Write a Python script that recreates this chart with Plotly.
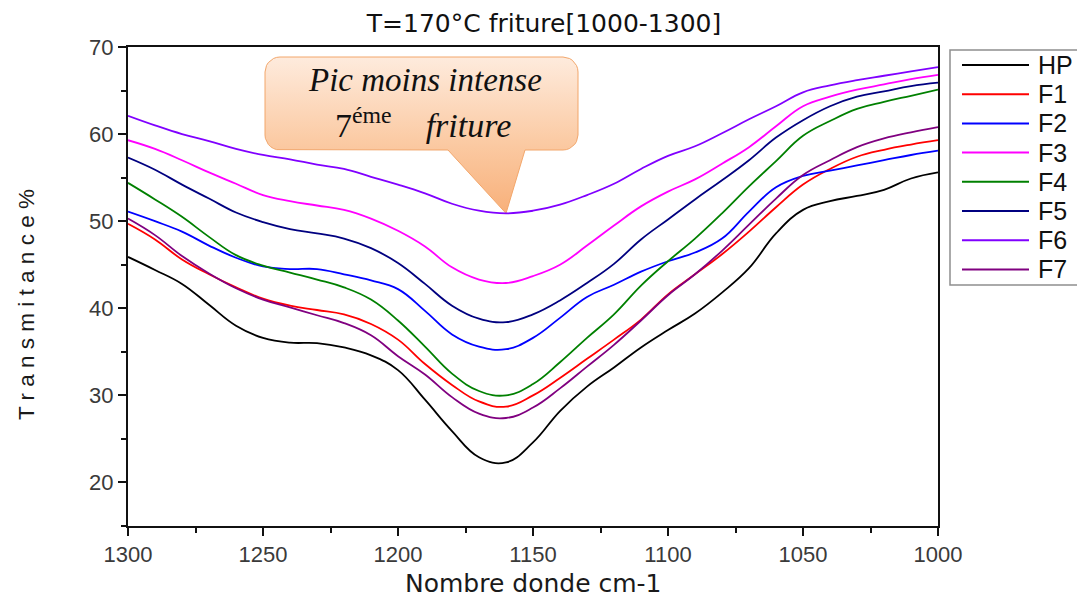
import numpy as np
import plotly.graph_objects as go

# Wavenumber grid (cm-1), high to low as on the spectrometer axis
wavenumber = [1300, 1290, 1280, 1270, 1260, 1250, 1240, 1230, 1220, 1210,
              1200, 1190, 1180, 1170, 1160, 1150, 1140, 1130, 1120, 1110,
              1100, 1090, 1080, 1070, 1060, 1050, 1040, 1030, 1020, 1010, 1000]

# Transmittance (%) for the fresh oil (HP) and each frying cycle F1..F7
hp = [45.9, 44.4, 42.8, 40.4, 38.0, 36.6, 36.05, 36.0, 35.5, 34.6,
      32.9, 29.5, 25.9, 22.9, 22.3, 24.6, 28.2, 31.0, 33.2, 35.5,
      37.5, 39.4, 41.8, 44.6, 48.6, 51.3, 52.3, 52.9, 53.6, 54.9, 55.6]
f1 = [49.7, 47.9, 45.6, 43.9, 42.4, 41.1, 40.3, 39.8, 39.3, 38.2,
      36.4, 33.6, 31.2, 29.3, 28.7, 30.0, 32.0, 34.2, 36.4, 38.7,
      41.6, 43.9, 46.2, 48.8, 51.6, 54.2, 56.0, 57.4, 58.2, 58.8, 59.3]
f2 = [51.1, 50.0, 48.8, 47.2, 45.8, 44.8, 44.5, 44.5, 43.9, 43.2,
      42.2, 39.7, 37.0, 35.6, 35.3, 36.6, 38.9, 41.3, 42.7, 44.2,
      45.4, 46.4, 48.0, 51.1, 53.9, 55.2, 55.8, 56.4, 57.0, 57.6, 58.1]
f3 = [59.3, 58.3, 57.0, 55.6, 54.3, 53.0, 52.3, 51.8, 51.3, 50.3,
      48.9, 47.1, 44.7, 43.3, 42.9, 43.7, 45.0, 47.2, 49.5, 51.7,
      53.4, 54.8, 56.6, 58.5, 60.9, 63.2, 64.3, 65.1, 65.7, 66.3, 66.8]
f4 = [54.4, 52.5, 50.5, 48.2, 46.1, 44.9, 44.1, 43.3, 42.4, 41.0,
      38.6, 35.6, 32.5, 30.5, 30.0, 31.3, 33.8, 36.6, 39.3, 42.6,
      45.4, 48.0, 50.9, 54.0, 56.9, 59.8, 61.5, 62.9, 63.7, 64.4, 65.1]
f5 = [57.3, 55.9, 54.2, 52.6, 51.0, 49.9, 49.1, 48.6, 48.0, 46.9,
      45.2, 42.8, 40.3, 38.8, 38.4, 39.3, 40.9, 42.9, 45.1, 47.9,
      50.2, 52.5, 54.7, 57.0, 59.6, 61.6, 63.2, 64.3, 64.9, 65.5, 65.9]
f6 = [62.1, 61.0, 60.0, 59.2, 58.3, 57.6, 57.1, 56.5, 56.0, 55.1,
      54.2, 53.2, 52.0, 51.2, 50.9, 51.2, 51.9, 53.0, 54.3, 56.0,
      57.5, 58.6, 60.1, 61.7, 63.2, 64.8, 65.6, 66.2, 66.7, 67.2, 67.7]
f7 = [50.3, 48.4, 46.0, 44.0, 42.3, 41.0, 40.1, 39.2, 38.3, 36.9,
      34.5, 32.4, 29.8, 27.9, 27.4, 28.6, 30.8, 33.3, 35.8, 38.6,
      41.5, 43.9, 46.6, 49.6, 52.6, 55.3, 57.0, 58.5, 59.5, 60.2, 60.8]

series_names = ["HP", "F1", "F2", "F3", "F4", "F5", "F6", "F7"]
series_values = [hp, f1, f2, f3, f4, f5, f6, f7]
series_colors = ["#000000", "#ff0000", "#0000ff", "#ff00ff",
                 "#008000", "#000080", "#8000ff", "#800080"]

X_RANGE = (1300, 1000)
Y_RANGE = (15, 70)

W, H = 1077, 599
M_L, M_R, M_T, M_B = 128, 139, 47, 73
PLOT_W = W - M_L - M_R
PLOT_H = H - M_T - M_B


def to_data(px, py):
    """Pixel offset inside the plot area (from top-left) -> data coords."""
    x = X_RANGE[0] + (X_RANGE[1] - X_RANGE[0]) * px / PLOT_W
    y = Y_RANGE[1] - (Y_RANGE[1] - Y_RANGE[0]) * py / PLOT_H
    return x, y


def to_px(x, y):
    px = (x - X_RANGE[0]) / (X_RANGE[1] - X_RANGE[0]) * PLOT_W
    py = (Y_RANGE[1] - y) / (Y_RANGE[1] - Y_RANGE[0]) * PLOT_H
    return px, py


def paper_x(page_px):
    return (page_px - M_L) / PLOT_W


def paper_y(page_py):
    return (H - M_B - page_py) / PLOT_H


fig = go.Figure()

# ---- callout bubble pointing at the shallowest band (F6) ----
i_min = int(np.argmin(f6))
tip_px, tip_py = to_px(wavenumber[i_min], f6[i_min])
box_l, box_r, box_t, box_b, rad = 137, 450, 10, 103, 15
base_l, base_r = 320, 397

pts = []


def arc(cx, cy, a0, a1):
    for a in np.linspace(a0, a1, 8):
        pts.append((cx + rad * np.cos(a), cy - rad * np.sin(a)))


arc(box_l + rad, box_t + rad, np.pi, np.pi / 2)          # top-left
arc(box_r - rad, box_t + rad, np.pi / 2, 0)              # top-right
arc(box_r - rad, box_b - rad, 0, -np.pi / 2)             # bottom-right
pts += [(base_r, box_b), (tip_px, tip_py), (base_l, box_b)]
arc(box_l + rad, box_b - rad, -np.pi / 2, -np.pi)        # bottom-left
pts.append(pts[0])

cx, cy = zip(*[to_data(p[0], p[1]) for p in pts])
_, y_tip = to_data(0, tip_py)
_, y_top = to_data(0, box_t)
fig.add_trace(go.Scatter(
    x=cx, y=cy, mode="lines", fill="toself",
    line=dict(color="#f2a66b", width=1),
    fillgradient=dict(type="vertical", start=y_tip, stop=y_top,
                      colorscale=[[0, "#f8b07a"], [0.45, "#fbcaa3"], [1, "#feebdd"]]),
    showlegend=False, hoverinfo="skip",
))

# ---- spectra ----
for name, vals, col in zip(series_names, series_values, series_colors):
    fig.add_trace(go.Scatter(
        x=wavenumber, y=vals, name=name, mode="lines",
        line=dict(color=col, width=1.8, shape="spline", smoothing=1.2),
        showlegend=False,
    ))

# callout text
tx1, ty1 = to_data(297, 33)
tx2, ty2 = to_data(295, 76)
fig.add_annotation(x=tx1, y=ty1, text="<i>Pic moins intense</i>", showarrow=False,
                   font=dict(family="Liberation Serif", size=33, color="#111111"),
                   xanchor="center", yanchor="middle")
fig.add_annotation(x=tx2, y=ty2, text="7<sup>éme</sup>\u2003<i>friture</i>", showarrow=False,
                   font=dict(family="Liberation Serif", size=34, color="#111111"),
                   xanchor="center", yanchor="middle")

# ---- legend box drawn beside the plot ----
LEG_L, LEG_T, LEG_B, LEG_R = 950, 50, 285, 1095
LEG_ROW0, LEG_STEP = 65, 29.2
fig.add_shape(type="rect", xref="paper", yref="paper",
              x0=paper_x(LEG_L), x1=paper_x(LEG_R), y0=paper_y(LEG_B), y1=paper_y(LEG_T),
              line=dict(color="#8f8f8f", width=1.5), fillcolor="white", layer="above")
for k, (name, col) in enumerate(zip(series_names, series_colors)):
    yy = paper_y(LEG_ROW0 + k * LEG_STEP)
    fig.add_shape(type="line", xref="paper", yref="paper",
                  x0=paper_x(962), x1=paper_x(1029), y0=yy, y1=yy,
                  line=dict(color=col, width=2), layer="above")
    fig.add_annotation(xref="paper", yref="paper", x=paper_x(1036), y=yy,
                       text=name, showarrow=False, xanchor="left", yanchor="middle",
                       font=dict(family="Liberation Sans", size=25, color="#111111"))

# axis titles
fig.add_annotation(xref="paper", yref="paper", x=paper_x(26), y=paper_y(305),
                   text="T r a n s m i t a n c e %", textangle=-90, showarrow=False,
                   xanchor="center", yanchor="middle",
                   font=dict(family="Liberation Sans", size=22.5, color="#1a1a1a"))
fig.add_annotation(xref="paper", yref="paper", x=paper_x(533), y=paper_y(583),
                   text="Nombre donde cm-1", showarrow=False,
                   xanchor="center", yanchor="middle",
                   font=dict(family="DejaVu Sans", size=25, color="#1a1a1a"))

axis_common = dict(
    showline=True, linecolor="#111111", linewidth=2, mirror=True,
    ticks="outside", ticklen=8, tickwidth=2, tickcolor="#111111",
    showgrid=False, zeroline=False,
    tickfont=dict(family="Liberation Sans", size=22, color="#3a3a3a"),
)

fig.update_layout(
    width=W, height=H,
    margin=dict(l=M_L, r=M_R, t=M_T, b=M_B),
    paper_bgcolor="white", plot_bgcolor="white",
    title=dict(text="T=170°C friture[1000-1300]", x=544 / W,
               xanchor="center", y=1 - 23 / H, yanchor="middle",
               font=dict(family="DejaVu Sans", size=25, color="#111111")),
    xaxis=dict(range=list(X_RANGE), dtick=50, tick0=1000,
               minor=dict(ticks="outside", ticklen=5, tickwidth=2, dtick=25,
                          tickcolor="#111111"),
               **axis_common),
    yaxis=dict(range=list(Y_RANGE), dtick=10, tick0=0,
               minor=dict(ticks="outside", ticklen=5, tickwidth=2, dtick=5,
                          tickcolor="#111111"),
               **axis_common),
    showlegend=False,
)

fig.write_html("out.html")
